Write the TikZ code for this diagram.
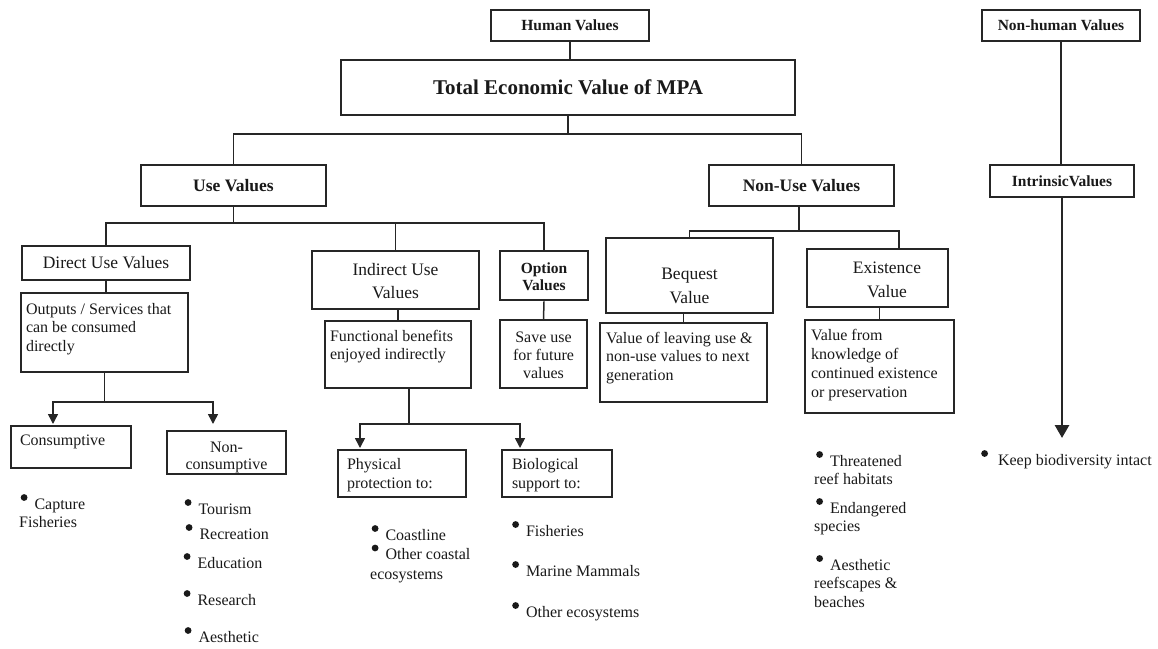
\documentclass[tikz,border=0pt]{standalone}
\usepackage{fontspec}
\setmainfont{Liberation Serif}
\usetikzlibrary{arrows.meta,calc}
\newcommand{\fz}[2]{\fontsize{#1}{#2}\selectfont}
\newcommand{\bul}{\tikz[baseline=0pt]{\fill[black!90] (3.5pt,11.5pt) circle (3.4pt);}\hspace{7pt}}
\newcommand{\pbx}[5]{\parbox[c][#2][t]{#1}{#5\rule{0pt}{#3}\ignorespaces#4}}
\tikzset{
  box/.style={draw=black!85, line width=1.6pt, inner sep=0pt, text=black!90},
  tbox/.style={box, line width=2.8pt},
  ln/.style={draw=black!85, line width=1.5pt},
  lnt/.style={draw=black!85, line width=2.8pt},
  arr/.style={ln, -{Triangle[width=10pt,length=10pt]}},
  arrt/.style={lnt, -{Triangle[width=14pt,length=13pt]}},
  item/.style={inner sep=0pt, anchor=base west, font=\fz{16}{18.5}, text=black!90},
}
\begin{document}
\begin{tikzpicture}[x=1pt,y=-1pt]
\useasboundingbox (0,0) rectangle (1158,648);
% top level
\node[tbox, minimum width=158pt, minimum height=31pt, font=\bfseries\fz{15.5}{18}] (hv) at (570,25.5) {Human Values};
\node[box, minimum width=454pt, minimum height=55pt, font=\bfseries\fz{21}{25}] (tev) at (568,87.5) {Total Economic Value of MPA};
\node[tbox, minimum width=158pt, minimum height=31pt, font=\bfseries\fz{15.5}{18}] (nonhuman) at (1061,25.5) {Non-human Values};
\node[tbox, minimum width=144pt, minimum height=32pt, font=\bfseries\fz{15.5}{18}] (intrinsic) at (1062,181) {IntrinsicValues};
\node[box, minimum width=185pt, minimum height=41pt, font=\bfseries\fz{17.5}{21}] (use) at (233.5,185.5) {Use Values};
\node[box, minimum width=185pt, minimum height=41pt, font=\bfseries\fz{17.5}{21}] (nonuse) at (801.5,185.5) {Non-Use Values};
% use values branch
\node[box, minimum width=168pt, minimum height=34pt, font=\fz{17.5}{21}] (direct) at (106,263) {Direct Use Values};
\node[box, inner xsep=5pt, font=\fz{16}{18.5}] (outputs) at (104.5,332.5) {\pbx{157pt}{79pt}{21pt}{Outputs / Services that\\can be consumed\\directly}{\raggedright}};
\node[box, font=\fz{17.5}{23}] (indirect) at (395.5,280) {\pbx{167pt}{58pt}{24pt}{Indirect Use\\Values}{\centering}};
\node[tbox, font=\bfseries\fz{15.5}{17}] (option) at (544,275.5) {\pbx{88pt}{49pt}{22pt}{Option\\Values}{\centering}};
\node[box, font=\fz{16}{18}] (saveuse) at (543.5,354) {\pbx{87pt}{68pt}{22pt}{Save use\\for future\\values}{\centering}};
\node[box, inner xsep=5pt, font=\fz{16}{18.5}] (functional) at (398,354.5) {\pbx{136pt}{67pt}{20pt}{Functional benefits\\enjoyed indirectly}{\raggedright}};
\node[box, inner xsep=9pt, font=\fz{16}{19}] (physical) at (402,473.5) {\pbx{110pt}{47pt}{19pt}{Physical\\protection to:}{\raggedright}};
\node[box, inner xsep=10pt, font=\fz{16}{19}] (biological) at (557,473.5) {\pbx{90pt}{47pt}{19pt}{Biological\\support to:}{\raggedright}};
\node[box, inner xsep=9pt, font=\fz{16}{19}] (consumptive) at (71,447) {\pbx{102pt}{42pt}{19pt}{Consumptive}{\raggedright}};
\node[box, font=\fz{16}{17}] (noncons) at (226.5,452.5) {\pbx{119pt}{43pt}{21pt}{Non-\\consumptive}{\centering}};
% non-use branch
\node[box, font=\fz{17.5}{24}] (bequest) at (689.5,275.5) {\pbx{167pt}{75pt}{41pt}{Bequest\\Value}{\centering}};
\node[box, font=\fz{17.5}{24}] (existence) at (877.5,278) {\pbx{141pt}{58pt}{24pt}{\hspace*{19pt}Existence\\\hspace*{19pt}Value}{\centering}};
\node[box, inner xsep=6pt, font=\fz{16}{18.5}] (leaving) at (683.5,362.5) {\pbx{155pt}{79pt}{20pt}{Value of leaving use \&\\non-use values to next\\generation}{\raggedright}};
\node[box, inner xsep=6pt, font=\fz{16}{19}] (knowledge) at (879.5,366.5) {\pbx{137pt}{93pt}{20pt}{Value from\\knowledge of\\continued existence\\or preservation}{\raggedright}};
% bullet items
\node[item] (capture) at (19,509) {\parbox[t]{120pt}{\raggedright\hspace*{1.5pt}\bul Capture\\Fisheries}};
\node[item] (tourism) at (184.5,514) {\bul Tourism};
\node[item] (recreation) at (185.5,539) {\bul Recreation};
\node[item] (education) at (183.5,568) {\bul Education};
\node[item] (research) at (183.5,605) {\bul Research};
\node[item] (aesthetic) at (184.5,642) {\bul Aesthetic};
\node[item, font=\fz{16}{19.5}] (coast) at (370,540) {\parbox[t]{130pt}{\raggedright\hspace*{1.5pt}\bul Coastline\\\hspace*{1.5pt}\bul Other coastal\\ecosystems}};
\node[item] (fisheries) at (512,536) {\bul Fisheries};
\node[item] (mammals) at (512,576) {\bul Marine Mammals};
\node[item] (otherecos) at (512,617) {\bul Other ecosystems};
\node[item] (threat) at (814,466) {\parbox[t]{110pt}{\raggedright\hspace*{2pt}\bul Threatened\\reef habitats}};
\node[item] (endang) at (814,513) {\parbox[t]{110pt}{\raggedright\hspace*{2pt}\bul Endangered\\species}};
\node[item] (aesth) at (814,570) {\parbox[t]{110pt}{\raggedright\hspace*{2pt}\bul Aesthetic\\reefscapes \&\\beaches}};
\node[item] (keep) at (981,465) {\bul\hspace{3pt}Keep biodiversity intact};
% connectors
\draw[lnt] (hv.south) -- (hv.south |- tev.north);
\coordinate (t1) at (568,134);
\draw[ln] (tev.south) -- (t1);
\draw[ln] (use.north) |- (t1) -| (nonuse.north);
\coordinate (u1) at (233.5,223);
\draw[ln] (use.south) -- (u1);
\draw[ln] (direct.north) |- (u1) -| (indirect.north);
\draw[lnt] (indirect.north |- u1) -| (option.north);
\draw[ln] (direct.south) -- (direct.south |- outputs.north);
\coordinate (o1) at (104.5,402);
\coordinate (a1) at (53,424);
\coordinate (a2) at (213,424);
\draw[ln] (outputs.south) -- (o1);
\draw[arr] (o1) -| (a1);
\draw[arr] (o1) -| (a2);
\draw[ln] (functional.north |- indirect.south) -- (functional.north);
\coordinate (f1) at (409,424);
\coordinate (p1) at (360,448);
\coordinate (b1) at (520,448);
\draw[ln] (functional.south -| f1) -- (f1);
\draw[arr] (f1) -| (p1);
\draw[arr] (f1) -| (b1);
\draw[ln] (option.south) -- (saveuse.north);
\coordinate (n1) at (799,231);
\coordinate (n2) at (899,231);
\draw[ln] (nonuse.south -| n1) -- (n1);
\draw[ln] (bequest.north) |- (n1) -- (n2) -- (n2 |- existence.north);
\draw[ln] (leaving.north |- bequest.south) -- (leaving.north);
\draw[ln] (knowledge.north |- existence.south) -- (knowledge.north);
\draw[lnt] (nonhuman.south) -- (nonhuman.south |- intrinsic.north);
\coordinate (k1) at (1062,438);
\draw[arrt] (intrinsic.south) -- (intrinsic.south |- k1);
\end{tikzpicture}
\end{document}
